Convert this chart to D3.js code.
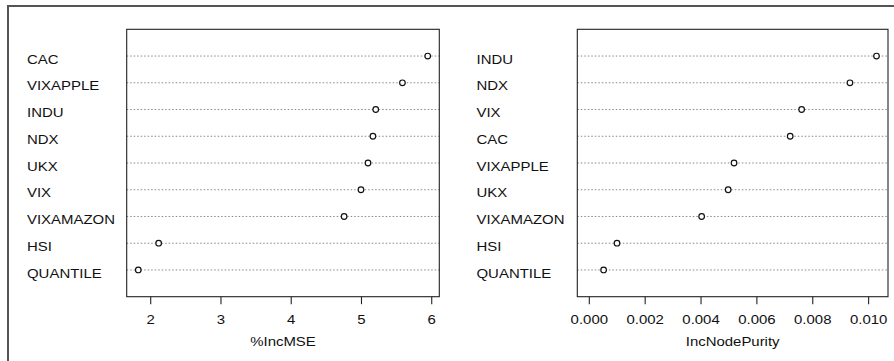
<!DOCTYPE html>
<html>
<head>
<meta charset="utf-8">
<script src="https://cdn.jsdelivr.net/npm/d3@7"></script>
<style>
  body { margin: 0; background: #fff; }
  svg { display: block; font-family: "Liberation Sans", Arial, sans-serif; }
</style>
</head>
<body>
<svg id="chart" width="894" height="361"></svg>
<script>
// %IncMSE panel (top to bottom)
const mseLabels = ["CAC", "VIXAPPLE", "INDU", "NDX", "UKX", "VIX", "VIXAMAZON", "HSI", "QUANTILE"];
const mseValues = [5.95, 5.59, 5.21, 5.17, 5.10, 5.00, 4.76, 2.12, 1.83];
const mseTicks = [2, 3, 4, 5, 6];

// IncNodePurity panel (top to bottom)
const purityLabels = ["INDU", "NDX", "VIX", "CAC", "VIXAPPLE", "UKX", "VIXAMAZON", "HSI", "QUANTILE"];
const purityValues = [0.0103, 0.00935, 0.00762, 0.00721, 0.0052, 0.00499, 0.00404, 0.00101, 0.00053];
const purityTicks = [0, 0.002, 0.004, 0.006, 0.008, 0.010];

const svg = d3.select("#chart");
const sx = 1.15; // text in the picture is a bit wide
const fs = 13;

// outer frame (left and top edges only)
svg.append("path")
  .attr("d", "M8,361V6H894")
  .attr("fill", "none")
  .attr("stroke", "#555")
  .attr("stroke-width", 2);

function panel(opts) {
  const { labels, values, ticks, title, left, right, labelX, xmin, fmt } = opts;
  const top = 29.3, bottom = 296.7;

  // R dotchart: range extended by 4% on both ends
  const lo = xmin !== undefined ? xmin : d3.min(values);
  const hi = d3.max(values);
  const pad = (hi - lo) * 0.04;
  const x = d3.scaleLinear().domain([lo - pad, hi + pad]).range([left, right]);
  const y = d3.scalePoint().domain(labels).range([top, bottom]).padding(1);

  const g = svg.append("g");

  // dotted guide lines
  g.selectAll("line.guide")
    .data(labels)
    .join("line")
    .attr("class", "guide")
    .attr("x1", left).attr("x2", right)
    .attr("y1", d => y(d)).attr("y2", d => y(d))
    .attr("stroke", "#7a7a7a")
    .attr("stroke-width", 0.9)
    .attr("stroke-dasharray", "1.5,2");

  // points
  g.selectAll("circle")
    .data(values)
    .join("circle")
    .attr("cx", d => x(d))
    .attr("cy", (d, i) => y(labels[i]))
    .attr("r", 2.8)
    .attr("fill", "#fff")
    .attr("stroke", "#111")
    .attr("stroke-width", 1.2);

  // plot box
  g.append("rect")
    .attr("x", left).attr("y", top)
    .attr("width", right - left).attr("height", bottom - top)
    .attr("fill", "none")
    .attr("stroke", "#222")
    .attr("stroke-width", 1.1);

  // row labels
  g.selectAll("text.lab")
    .data(labels)
    .join("text")
    .attr("class", "lab")
    .attr("transform", d => `translate(${labelX},${y(d) + 7.6}) scale(${sx},1)`)
    .attr("font-size", fs)
    .attr("fill", "#111")
    .text(d => d);

  // x axis
  const ax = g.append("g")
    .attr("transform", `translate(0,${bottom})`)
    .call(d3.axisBottom(x).tickValues(ticks).tickSize(7.5).tickFormat(fmt));
  ax.select(".domain").remove();
  ax.selectAll(".tick line").attr("stroke", "#222").attr("stroke-width", 1.1);
  ax.selectAll(".tick text")
    .attr("y", 27)
    .attr("dy", null)
    .attr("transform", `scale(${sx},1)`)
    .attr("font-size", fs)
    .attr("font-family", "Liberation Sans, Arial, sans-serif")
    .attr("fill", "#111");

  g.append("text")
    .attr("transform", `translate(${(left + right) / 2},345.5) scale(${sx},1)`)
    .attr("text-anchor", "middle")
    .attr("font-size", fs)
    .attr("fill", "#111")
    .text(title);
}

panel({
  labels: mseLabels, values: mseValues, ticks: mseTicks,
  title: "%IncMSE", left: 126.7, right: 439.3, labelX: 27,
  fmt: d3.format("d")
});

panel({
  labels: purityLabels, values: purityValues, ticks: purityTicks,
  title: "IncNodePurity", left: 577.3, right: 888, labelX: 476.5, xmin: 0,
  fmt: d3.format(".3f")
});
</script>
</body>
</html>
